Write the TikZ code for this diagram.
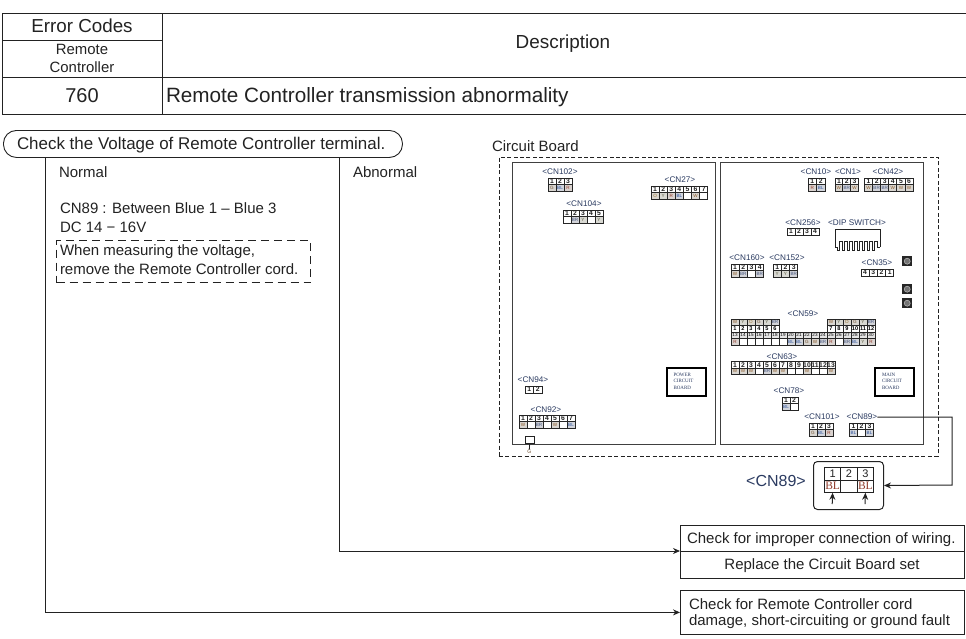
\documentclass[tikz,border=0pt]{standalone}
\usepackage{fontspec}
\setmainfont{Liberation Sans}
\newfontfamily\serifpin{Liberation Serif}
\usetikzlibrary{arrows.meta,calc}
\definecolor{ink}{HTML}{222222}
\definecolor{navy}{HTML}{2A3A60}
\definecolor{pin}{HTML}{222222}
\definecolor{pinW}{HTML}{8A5A2A}
\definecolor{pinBL}{HTML}{2A4F98}
\definecolor{pinBR}{HTML}{4A5A80}
\definecolor{pinR}{HTML}{903A2A}
\definecolor{pinY}{HTML}{5A5A40}
\definecolor{pinG}{HTML}{6A4A2A}
\definecolor{pinO}{HTML}{906A2A}
\definecolor{fill}{HTML}{FFFFFF}
\definecolor{fillW}{HTML}{D8D5D0}
\definecolor{fillBL}{HTML}{D2D5DC}
\definecolor{fillBR}{HTML}{D2D3D8}
\definecolor{fillR}{HTML}{DAD3D0}
\definecolor{fillY}{HTML}{D8D8D2}
\definecolor{fillG}{HTML}{D8D5D0}
\definecolor{fillO}{HTML}{DAD6CE}
\tikzset{
  rule/.style={draw=ink,line width=0.9pt},
  flow/.style={draw=ink,line width=0.8pt,-{Stealth[length=7pt,width=6pt]}},
  plainflow/.style={draw=ink,line width=0.8pt},
  txt/.style={inner sep=0pt,outer sep=0pt,text=ink,font=\fontsize{15}{18}\selectfont},
  ltxt/.style={txt,anchor=west},
  cnlab/.style={inner sep=0pt,outer sep=0pt,text=navy,font=\fontsize{8.2}{9}\selectfont},
  cellbox/.style={draw=black!85,line width=0.9pt,inner sep=0pt,outer sep=0pt},
  panel/.style={draw=black!75,line width=1.2pt},
  outerdash/.style={draw=ink,line width=1pt,dash pattern=on 4pt off 2.4pt},
  badge/.style={draw=black,line width=1.7pt},
  badgetxt/.style={inner sep=0pt,outer sep=0pt,anchor=west,align=left,text=navy,font=\serifpin\fontsize{5}{6.5}\selectfont},
}
% \conn{name}{x0}{y0}{cell width}{numbers}{labels}
\newcommand{\conn}[6]{%
  \foreach \n [count=\i] in {#5} {
    \node[cellbox,minimum width=#4pt,minimum height=6.5pt,anchor=north west,
      font=\bfseries\fontsize{6.8}{7}\selectfont,text=ink,name=#1-t\i]
      at ({#2+(\i-1)*#4},#3) {\n};
  }
  \foreach \l [count=\i] in {#6} {
    \node[cellbox,fill=fill\l,minimum width=#4pt,minimum height=6.5pt,anchor=north west,
      font=\fontsize{4.6}{5}\selectfont,text=pin\l,name=#1-b\i]
      at ({#2+(\i-1)*#4},#3+6.5) {\l};
  }
}
% single row of numbers
\newcommand{\connrow}[5]{%
  \foreach \n [count=\i] in {#5} {
    \node[cellbox,minimum width=#4pt,minimum height=7pt,anchor=north west,
      font=\bfseries\fontsize{6.8}{7}\selectfont,text=ink,name=#1-t\i]
      at ({#2+(\i-1)*#4},#3) {\n};
  }
}
\begin{document}
\begin{tikzpicture}[x=1pt,y=-1pt]
\useasboundingbox (0,0) rectangle (966,638);
% header table
\node[rule,minimum width=160pt,minimum height=27pt,inner sep=0pt,anchor=north west] (errcodes) at (2,13) {};
\node[txt,font=\fontsize{18.8}{20}\selectfont] (errtxt) at (82,26) {Error Codes};
\node[rule,minimum width=160pt,minimum height=37pt,inner sep=0pt,anchor=north west,txt,align=center,font=\fontsize{14.9}{18}\selectfont] (remote) at (2,40) {Remote\\Controller};
\node[rule,minimum width=804pt,minimum height=64pt,inner sep=0pt,anchor=north west] (desc) at (162,13) {};
\node[txt,font=\fontsize{18.9}{20}\selectfont] (desctxt) at (563,44) {Description};
\node[rule,minimum width=160pt,minimum height=37pt,inner sep=0pt,anchor=north west,txt,font=\fontsize{20}{20}\selectfont] (code) at (2,77) {760};
\node[rule,minimum width=804pt,minimum height=37pt,inner sep=0pt,anchor=north west,txt] (abn) at (162,77) {};
\node[ltxt,font=\fontsize{20.7}{22}\selectfont] (abntxt) at (166,97.5) {Remote Controller transmission abnormality};
% check step
\node[rule,rounded corners=13pt,minimum width=399pt,minimum height=27pt,inner sep=0pt,anchor=north west] (pill) at (3,130) {};
\node[ltxt,font=\fontsize{16.95}{18}\selectfont] (pilltxt) at (17,145.5) {Check the Voltage of Remote Controller terminal.};
\node[ltxt] (normal) at (59,172) {Normal};
\node[ltxt] (abnormal) at (353,172) {Abnormal};
\node[ltxt] (cn89a) at (60,208) {CN89 : Between Blue 1 – Blue 3};
\node[ltxt] (cn89b) at (60,227) {DC 14 − 16V};
\node[draw=ink,line width=1.1pt,dash pattern=on 8pt off 5pt,minimum width=254pt,minimum height=42pt,inner sep=0pt,anchor=north west] (note) at (56,240) {};
\node[ltxt] (notea) at (60,252) {When measuring the voltage,};
\node[ltxt] (noteb) at (60,269.5) {remove the Remote Controller cord.};
% result boxes
\node[draw=ink,line width=0.8pt,minimum width=284pt,minimum height=26pt,inner sep=0pt,anchor=north west] (res1) at (680,525) {};
\node[ltxt] (res1t) at (687,539.5) {Check for improper connection of wiring.};
\node[draw=ink,line width=0.8pt,minimum width=284pt,minimum height=27pt,inner sep=0pt,anchor=north west] (res2) at (680,551) {};
\node[txt] (res2t) at (822,566) {Replace the Circuit Board set};
\node[draw=ink,line width=0.8pt,minimum width=284pt,minimum height=44pt,inner sep=0pt,anchor=north west] (res3) at (680,590) {};
\node[ltxt] (res3a) at (689,604) {Check for Remote Controller cord};
\node[ltxt] (res3b) at (689,622) {damage, short-circuiting or ground fault};
% flow lines
\coordinate (normx) at (45,157);
\coordinate (abnx) at (339,157);
\draw[flow] (pill.south -| normx) |- (res3.west);
\draw[flow] (pill.south -| abnx) |- (res2.north west);
% circuit board
\node[ltxt] (cbtitle) at (492,146) {Circuit Board};
\node[outerdash,minimum width=439pt,minimum height=299pt,inner sep=0pt,anchor=north west] (outer) at (498.5,156.5) {};
\node[panel,minimum width=203pt,minimum height=282pt,inner sep=0pt,anchor=north west] (pwr) at (512,162) {};
\node[panel,minimum width=203pt,minimum height=282pt,inner sep=0pt,anchor=north west] (mainb) at (720,162) {};
% left panel
\node[cnlab] (l102) at (560,172) {<CN102>};
\conn{c102}{548}{178}{8}{1,2,3}{G,BL,R}
\node[cnlab] (l104) at (584,204) {<CN104>};
\conn{c104}{563}{210}{8}{1,2,3,4,5}{,BR,Y,,Y}
\node[cnlab] (l27) at (680,180) {<CN27>};
\conn{c27}{651}{186}{8.1}{1,2,3,4,5,6,7}{O,Y,R,BL,,W,}
\node[cnlab] (l94) at (533,380) {<CN94>};
\connrow{c94}{525}{386}{8.5}{1,2}
\node[cnlab] (l92) at (546,410) {<CN92>};
\conn{c92}{519}{415}{8}{1,2,3,4,5,6,7}{W,,BR,,W,,BL}
\node[draw=ink,line width=0.9pt,minimum width=8.5pt,minimum height=7pt,inner sep=0pt,anchor=north west] (gbox) at (525,436) {};
\node[inner sep=0pt,text=pinG,font=\fontsize{5.2}{5}\selectfont] (glab) at (529.3,451.6) {G};
\draw[plainflow] (gbox.south) -- (glab.north);
\node[badge,minimum width=39pt,minimum height=28pt,inner sep=0pt,anchor=north west] (pbox) at (666,367) {};
\node[badgetxt] (ptxt) at (673.5,381) {POWER\\CIRCUIT\\BOARD};
% right panel
\node[cnlab] (l10) at (816,172) {<CN10>};
\conn{c10}{808}{178}{8.5}{1,2}{R,BL}
\node[cnlab] (l1) at (848,172) {<CN1>};
\conn{c1}{835}{178}{7.8}{1,2,3}{W,BR,W}
\node[cnlab] (l42) at (888,172) {<CN42>};
\conn{c42}{864.5}{178}{8.1}{1,2,3,4,5,6}{W,BR,BR,W,W,W}
\node[cnlab] (l256) at (803,223) {<CN256>};
\connrow{c256}{787}{228}{8}{1,2,3,4}
\node[cnlab] (ldip) at (857,223) {<DIP SWITCH>};
\coordinate (dip) at (835,229);
\draw[draw=ink,line width=0.8pt] (835,247) -- (dip) -- ++(45,0) -- ++(0,18);
\draw[draw=ink,line width=0.9pt] (835,247) -- ++(2,0)
  \foreach \k in {1,...,8} { -- ++(0,3) -- ++(2,0) -- ++(0,-9) -- ++(3.1,0) -- ++(0,6)} -- (880,247);
\node[cnlab] (l160) at (747,258) {<CN160>};
\conn{c160}{731}{264}{8.2}{1,2,3,4}{W,BR,,BR}
\node[cnlab] (l152) at (787,258) {<CN152>};
\conn{c152}{773}{264}{8.3}{1,2,3}{Y,Y,BR}
\node[cnlab] (l35) at (877,263) {<CN35>};
\connrow{c35}{861}{269}{8.2}{4,3,2,1}
\foreach \yy [count=\k] in {256,284,298} {
  \node[fill=black!85,minimum size=10pt,inner sep=0pt,anchor=north west,name=sq\k] at (902,\yy) {};
  \node[circle,draw=white!70!black,fill=black!55,line width=0.6pt,minimum size=6pt,inner sep=0pt,name=sc\k] at (sq\k) {};
}
% CN59
\node[cnlab] (l59) at (803,314) {<CN59>};
\foreach \l [count=\i] in {W,Y,O,G,Y,BR} {
  \node[cellbox,fill=fill\l,minimum width=8pt,minimum height=6.5pt,anchor=north west,font=\fontsize{4.6}{5}\selectfont,text=pin\l,name=c59a\i] at ({731+(\i-1)*8},319) {\l};
  \node[cellbox,fill=fill\l,minimum width=8pt,minimum height=6.5pt,anchor=north west,font=\fontsize{4.6}{5}\selectfont,text=pin\l,name=c59e\i] at ({827+(\i-1)*8},319) {\l};
  \node[cellbox,minimum width=8pt,minimum height=6.5pt,anchor=north west,font=\bfseries\fontsize{5.6}{6}\selectfont,name=c59n\i] at ({731+(\i-1)*8},325.5) {\i};
  \pgfmathtruncatemacro{\nn}{\i+6}
  \node[cellbox,minimum width=8pt,minimum height=6.5pt,anchor=north west,font=\bfseries\fontsize{5.6}{6}\selectfont,name=c59m\i] at ({827+(\i-1)*8},325.5) {\nn};
}
\foreach \i in {1,...,18} {
  \pgfmathtruncatemacro{\nn}{\i+12}
  \node[cellbox,fill=black!10,minimum width=8pt,minimum height=6.5pt,anchor=north west,font=\fontsize{4.6}{5}\selectfont,name=c59r\i] at ({731+(\i-1)*8},332) {\nn};
}
\foreach \l [count=\i] in {R,,,,,,,BL,BL,G,W,BR,R,,BR,BL,Y,R} {
  \node[cellbox,fill=fill\l,minimum width=8pt,minimum height=6.5pt,anchor=north west,font=\fontsize{4.6}{5}\selectfont,text=pin\l,name=c59b\i] at ({731+(\i-1)*8},338.5) {\l};
}
% CN63
\node[cnlab] (l63) at (782,357) {<CN63>};
\conn{c63}{731}{361.5}{8}{1,2,3,4,5,6,7,8,9,10,11,12,13}{W,W,W,,BR,W,W,,,W,,,W}
% CN78
\node[cnlab] (l78) at (789,391) {<CN78>};
\conn{c78}{782}{397}{8}{1,2}{BL,}
\node[badge,minimum width=39pt,minimum height=28pt,inner sep=0pt,anchor=north west] (mbox) at (874,367) {};
\node[badgetxt] (mtxt) at (882,381) {MAIN\\CIRCUIT\\BOARD};
\node[cnlab] (l101) at (822,417) {<CN101>};
\conn{c101}{809}{423}{8}{1,2,3}{G,BL,R}
\node[cnlab] (l89) at (862,417) {<CN89>};
\conn{c89}{849.5}{423}{8}{1,2,3}{BL,,BL}
% enlarged CN89
\node[draw=ink,line width=1pt,rounded corners=4pt,minimum width=70pt,minimum height=48pt,inner sep=0pt,anchor=north west] (big) at (813,461) {};
\node[inner sep=0pt,text=navy,font=\fontsize{16}{18}\selectfont] (bigl) at (776,481) {<CN89>};
\foreach \n [count=\i] in {1,2,3} {
  \node[draw=ink,line width=0.8pt,minimum width=16.4pt,minimum height=12.5pt,inner sep=0pt,anchor=north west,font=\fontsize{11}{12}\selectfont,text=ink,name=bt\i] at ({824+(\i-1)*16.4},467) {\n};
}
\foreach \l [count=\i] in {BL,,BL} {
  \node[draw=ink,line width=0.8pt,minimum width=16.4pt,minimum height=12.5pt,inner sep=0pt,anchor=north west,font=\serifpin\fontsize{11.5}{12}\selectfont,text=pinR,name=bb\i] at ({824+(\i-1)*16.4},479.5) {\l};
}
\coordinate (up1) at (832.2,504);
\coordinate (up3) at (865,504);
\draw[flow,line width=1pt] (up1) -- (bb1.south);
\draw[flow,line width=1pt] (up3) -- (bb3.south);
\coordinate (turn) at (952,485);
\draw[flow,line width=1pt] (l89.east) -| (turn) -- (big.east);
\end{tikzpicture}
\end{document}
